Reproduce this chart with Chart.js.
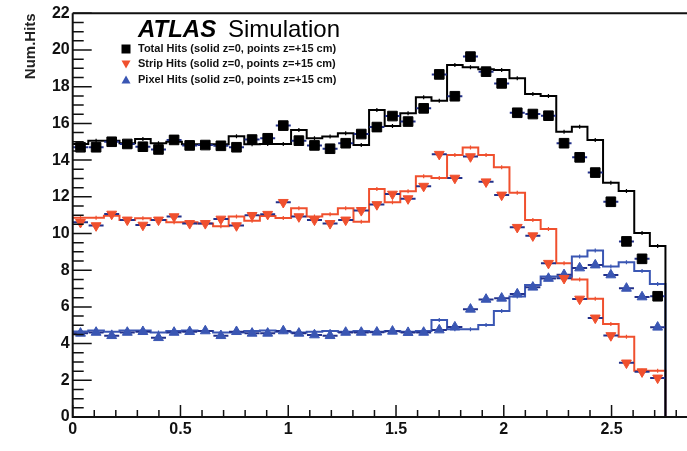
<!DOCTYPE html>
<html>
<head>
<meta charset="utf-8">
<script src="https://cdn.jsdelivr.net/npm/chart.js@4.4.1/dist/chart.umd.min.js"></script>
<style>
  html, body { margin: 0; padding: 0; background: #fff; }
  canvas { display: block; }
</style>
</head>
<body>
<canvas id="hits" width="687" height="451"></canvas>
<script>
// eta binning (38 bins from 0 to 2.75)
const binLow = 0;
const binHigh = 2.75;
const nBins = 38;

const xTicks = [0, 0.5, 1, 1.5, 2, 2.5];
const yTicks = [0, 2, 4, 6, 8, 10, 12, 14, 16, 18, 20, 22];

// solid histograms, z = 0
const totalHist = [14.88, 15.05, 15.05, 14.92, 15.15, 14.92, 15.0, 14.86, 14.86, 14.86,
  15.30, 14.86, 14.88, 14.88, 15.64, 15.19, 15.28, 15.46, 14.82, 16.73,
  15.86, 16.55, 17.42, 17.24, 19.18, 19.06, 18.95, 18.91, 18.46, 17.60,
  17.49, 15.55, 15.82, 15.10, 12.77, 12.32, 10.03, 9.32];
const stripHist = [10.86, 10.86, 10.97, 10.74, 10.83, 10.74, 10.61, 10.61, 10.55, 10.40,
  10.92, 10.70, 10.95, 10.85, 11.37, 10.92, 11.05, 11.37, 10.64, 12.42,
  11.70, 12.30, 13.12, 13.02, 14.28, 14.68, 14.28, 13.61, 12.22, 10.74,
  10.25, 8.38, 7.50, 6.45, 5.07, 4.38, 2.52, 2.52];
const pixelHist = [4.66, 4.72, 4.65, 4.72, 4.72, 4.60, 4.69, 4.72, 4.69, 4.60,
  4.60, 4.69, 4.72, 4.65, 4.60, 4.65, 4.69, 4.65, 4.69, 4.65,
  4.69, 4.65, 4.69, 5.29, 4.78, 4.78, 5.01, 5.78, 6.56, 7.19,
  7.65, 7.65, 8.74, 9.08, 8.20, 8.43, 7.96, 7.25];

// points, z = +15 cm
const totalPts = [14.70, 14.70, 15.00, 14.88, 14.73, 14.58, 15.10, 14.80, 14.82, 14.78,
  14.70, 15.12, 15.19, 15.88, 15.06, 14.80, 14.62, 14.92, 15.42, 15.80,
  16.40, 16.10, 16.82, 18.67, 17.48, 19.64, 18.82, 18.18, 16.58, 16.51,
  16.42, 14.92, 14.15, 13.32, 11.73, 9.57, 8.62, 6.58];
const stripPts = [10.61, 10.43, 11.06, 10.74, 10.46, 10.74, 10.92, 10.55, 10.55, 10.79,
  10.43, 10.99, 11.05, 11.70, 10.92, 10.74, 10.55, 10.74, 11.26, 11.58,
  12.15, 11.90, 12.58, 14.32, 13.02, 14.19, 12.82, 12.10, 10.34, 9.88,
  8.38, 7.56, 6.43, 5.40, 4.44, 2.95, 2.47, 2.13];
const pixelPts = [4.56, 4.61, 4.43, 4.61, 4.65, 4.32, 4.61, 4.65, 4.69, 4.43,
  4.65, 4.56, 4.56, 4.69, 4.56, 4.47, 4.43, 4.61, 4.61, 4.62,
  4.67, 4.60, 4.61, 4.74, 4.90, 5.87, 6.41, 6.47, 6.70, 7.07,
  7.55, 7.75, 8.12, 8.28, 7.74, 7.01, 6.54, 4.89];

const legendLabels = [
  'Total Hits (solid z=0, points z=+15 cm)',
  'Strip Hits (solid z=0, points z=+15 cm)',
  'Pixel Hits (solid z=0, points z=+15 cm)'
];

const BLACK = '#000000';
const RED = '#f0502e';
const BLUE = '#3a56b3';
const NAVY = '#22308a';
const X_MAX = 2.85;

const binWidth = (binHigh - binLow) / nBins;
const edges = Array.from({ length: nBins + 1 }, (_, i) => binLow + i * binWidth);
const centers = edges.slice(0, nBins).map((e) => e + binWidth / 2);

function histLine(values) {
  const pts = values.map((v, i) => ({ x: edges[i], y: v }));
  pts.push({ x: edges[nBins], y: values[nBins - 1] });
  pts.push({ x: edges[nBins], y: 0 });
  pts.push({ x: X_MAX, y: 0 });
  return pts;
}
function atCenters(values) {
  return values.map((v, i) => ({ x: centers[i], y: v }));
}

function histSet(values, color) {
  return {
    data: histLine(values), showLine: true, stepped: 'before',
    borderColor: color, borderWidth: 2, pointRadius: 0, fill: false, order: 3
  };
}
function histTicks(values, color) {
  return {
    data: atCenters(values), pointStyle: 'line', rotation: 90, pointRadius: 2,
    borderColor: color, borderWidth: 1.2, order: 3
  };
}
function dashSet(values) {
  return {
    data: atCenters(values), pointStyle: 'line', pointRadius: 7.5,
    borderColor: NAVY, borderWidth: 2, order: 2
  };
}
function markerSet(values, color, style, radius, rotation) {
  return {
    data: atCenters(values), pointStyle: style, pointRadius: radius, rotation: rotation,
    backgroundColor: color, borderColor: color, borderWidth: 1, order: 1
  };
}

const datasets = [
  histSet(totalHist, BLACK), histTicks(totalHist, BLACK),
  histSet(pixelHist, BLUE), histTicks(pixelHist, BLUE),
  histSet(stripHist, RED), histTicks(stripHist, RED),
  dashSet(totalPts), dashSet(stripPts), dashSet(pixelPts),
  markerSet(totalPts, BLACK, 'rect', 6.8, 0),
  markerSet(stripPts, RED, 'triangle', 5.7, 180),
  markerSet(pixelPts, BLUE, 'triangle', 5.7, 0)
];

// ROOT style frame: inner ticks, title, legend
const rootFrame = {
  id: 'rootFrame',
  afterDraw(chart) {
    const { ctx, chartArea: area, scales: { x, y } } = chart;
    ctx.save();
    ctx.strokeStyle = '#111';
    ctx.lineWidth = 2;
    ctx.beginPath();
    ctx.moveTo(area.left, area.top);
    ctx.lineTo(chart.width, area.top);
    ctx.moveTo(area.left, area.top);
    ctx.lineTo(area.left, area.bottom);
    ctx.lineTo(chart.width, area.bottom);
    ctx.stroke();

    ctx.lineWidth = 1.5;
    ctx.beginPath();
    for (let i = 0; i <= 28; i++) {
      const px = x.getPixelForValue(i / 10);
      const len = i % 5 === 0 ? 12 : 7;
      ctx.moveTo(px, area.bottom);
      ctx.lineTo(px, area.bottom - len);
    }
    for (let i = 0; i <= 44; i++) {
      const py = y.getPixelForValue(i / 2);
      const len = i % 4 === 0 ? 19 : 11;
      ctx.moveTo(area.left, py);
      ctx.lineTo(area.left + len, py);
    }
    ctx.stroke();

    // axis title
    ctx.fillStyle = '#222';
    ctx.font = 'bold 15px "Liberation Sans", Arial, sans-serif';
    ctx.translate(35, area.top);
    ctx.rotate(-Math.PI / 2);
    ctx.textAlign = 'right';
    ctx.textBaseline = 'alphabetic';
    ctx.fillText('Num.Hits', 0, 0);
    ctx.restore();

    // ATLAS label + legend
    ctx.save();
    ctx.fillStyle = '#000';
    ctx.textBaseline = 'alphabetic';
    ctx.font = 'italic bold 24px "Liberation Sans", Arial, sans-serif';
    ctx.fillText('ATLAS', 138, 37);
    ctx.font = '24px "Liberation Sans", Arial, sans-serif';
    ctx.fillText('Simulation', 228, 37);

    const rows = [49, 64, 80];
    const colors = [BLACK, RED, BLUE];
    ctx.font = 'bold 11px "Liberation Sans", Arial, sans-serif';
    ctx.textBaseline = 'middle';
    legendLabels.forEach((label, i) => {
      ctx.fillStyle = colors[i];
      const cx = 126, cy = rows[i];
      ctx.beginPath();
      if (i === 0) {
        ctx.rect(cx - 4.5, cy - 4.5, 9, 9);
      } else if (i === 1) {
        ctx.moveTo(cx - 4.5, cy - 3.5);
        ctx.lineTo(cx + 4.5, cy - 3.5);
        ctx.lineTo(cx, cy + 4.5);
      } else {
        ctx.moveTo(cx - 4.5, cy + 3.5);
        ctx.lineTo(cx + 4.5, cy + 3.5);
        ctx.lineTo(cx, cy - 4.5);
      }
      ctx.closePath();
      ctx.fill();
      ctx.fillStyle = '#111';
      ctx.fillText(label, 138, cy);
    });
    ctx.restore();
  }
};

const tickFont = { family: '"Liberation Sans", Arial, sans-serif', size: 16, weight: 'bold' };

new Chart(document.getElementById('hits'), {
  type: 'scatter',
  data: { datasets },
  options: {
    responsive: false,
    animation: false,
    devicePixelRatio: 1,
    layout: { autoPadding: false, padding: { top: 13.3, right: 0, left: 0, bottom: 0 } },
    plugins: { legend: { display: false }, tooltip: { enabled: false } },
    scales: {
      x: {
        type: 'linear', min: 0, max: X_MAX,
        grid: { display: false, drawTicks: false },
        border: { display: false },
        afterBuildTicks: (scale) => { scale.ticks = xTicks.map((v) => ({ value: v })); },
        afterFit: (scale) => {
          scale.height = 34;
          scale.paddingLeft = 0;
          scale.paddingRight = 0;
        },
        ticks: {
          font: tickFont, color: '#111', padding: 3, maxRotation: 0, autoSkip: false,
          callback: (value) => String(value)
        }
      },
      y: {
        type: 'linear', min: 0, max: 22,
        grid: { display: false, drawTicks: false },
        border: { display: false },
        afterBuildTicks: (scale) => { scale.ticks = yTicks.map((v) => ({ value: v })); },
        afterFit: (scale) => { scale.width = 72.7; },
        ticks: { font: tickFont, color: '#111', padding: 3, autoSkip: false }
      }
    }
  },
  plugins: [rootFrame]
});
</script>
</body>
</html>
